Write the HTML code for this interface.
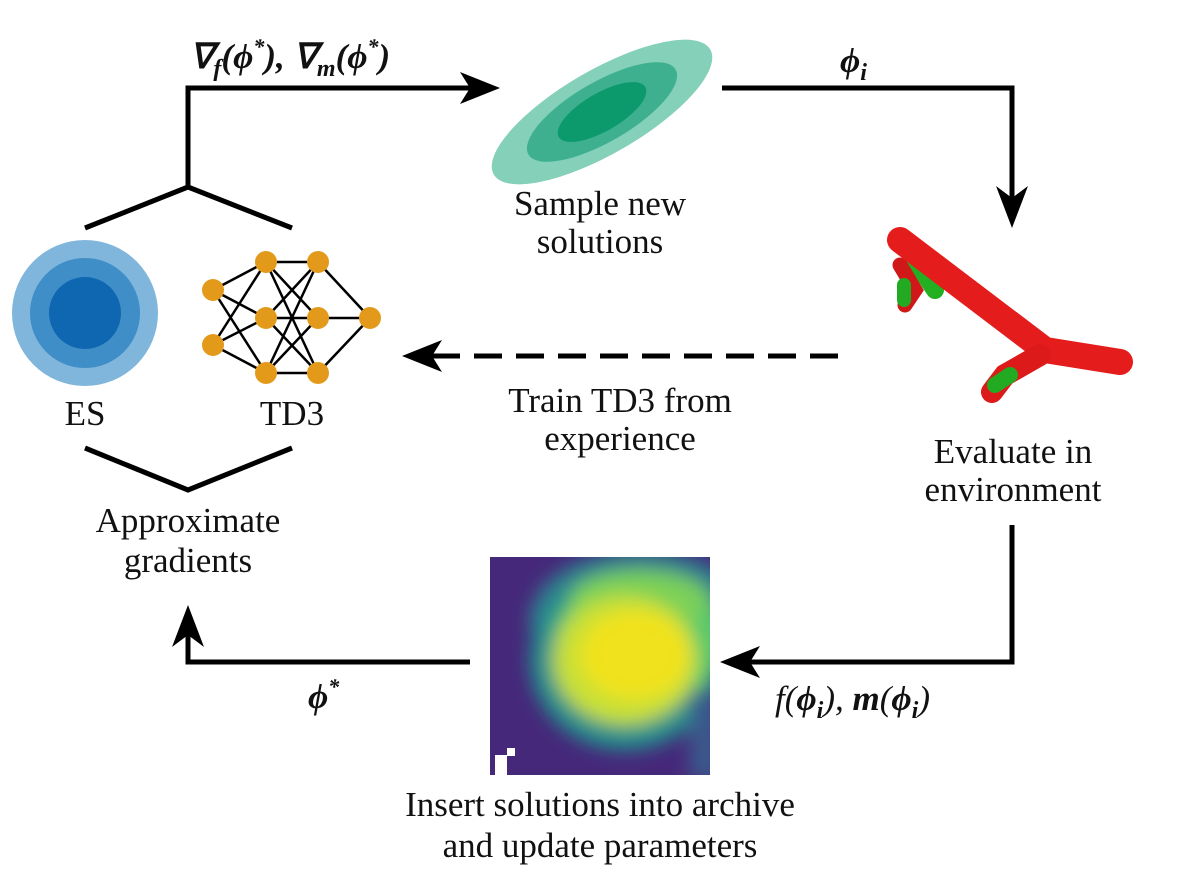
<!DOCTYPE html>
<html><head><meta charset="utf-8"><style>body{margin:0;background:#fff}svg{display:block}text{font-family:"Liberation Serif",serif;font-size:35px;fill:#111}</style></head><body>
<svg width="1200" height="882" viewBox="0 0 1200 882">
<defs>
<marker id="ah" markerWidth="10" markerHeight="10" refX="8" refY="5" orient="auto" markerUnits="userSpaceOnUse" viewBox="0 0 10 10"></marker>
<filter id="bl"><feGaussianBlur stdDeviation="9"/></filter>
<clipPath id="hc"><rect x="490" y="557" width="220" height="218"/></clipPath>
</defs>
<g stroke="#000" stroke-width="5" fill="none">
<polyline points="188,187 188,88 470,88"/>
<polyline points="85,228 188,187 292,228"/>
<polyline points="85,448 188,490 292,448"/>
<polyline points="722,88 1012,88 1012,200"/>
<polyline points="1012,525 1012,662 745,662"/>
<polyline points="470,662 188,662 188,635"/>
<line x1="838" y1="356" x2="430" y2="356" stroke-dasharray="28,14"/>
</g>
<g fill="#000">
<polygon points="500,88 460,72 470,88 460,104"/>
<polygon points="1012,228 996,186 1012,198 1028,186"/>
<polygon points="720,662 760,646 750,662 760,678"/>
<polygon points="188,605 172,647 188,635 204,647"/>
<polygon points="402,356 442,340 432,356 442,372"/>
</g>
<circle cx="85" cy="313" r="73" fill="#80b6dc"/>
<circle cx="85" cy="313" r="55" fill="#3f8ec8"/>
<circle cx="85" cy="313" r="36" fill="#0e67b0"/>
<g stroke="#000" stroke-width="2.5">
<path d="M213,290L266,262M213,290L266,318M213,290L266,373M213,345L266,262M213,345L266,318M213,345L266,373"/>
<path d="M266,262L318,262M266,262L318,318M266,262L318,373M266,318L318,262M266,318L318,318M266,318L318,373M266,373L318,262M266,373L318,318M266,373L318,373"/>
<path d="M318,262L370,318M318,318L370,318M318,373L370,318"/>
</g>
<g fill="#e39a1b">
<circle cx="213" cy="290" r="11"/><circle cx="213" cy="345" r="11"/>
<circle cx="266" cy="262" r="11"/><circle cx="266" cy="318" r="11"/><circle cx="266" cy="373" r="11"/>
<circle cx="318" cy="262" r="11"/><circle cx="318" cy="318" r="11"/><circle cx="318" cy="373" r="11"/>
<circle cx="370" cy="318" r="11"/>
</g>
<g transform="translate(602,112) rotate(-30)">
<ellipse rx="125" ry="42" fill="#84d0b9"/>
<ellipse rx="85" ry="30" fill="#3fb08f"/>
<ellipse rx="50" ry="19" fill="#0c9a6c"/>
</g>
<g stroke-linecap="round" fill="none">
<path d="M905,245 L935,290" stroke="#22b022" stroke-width="18"/>
<path d="M900,265 L915,290 L905,305" stroke="#d01818" stroke-width="15"/>
<path d="M904,285 L904,300" stroke="#22aa22" stroke-width="14"/>
<path d="M900,240 L1045,350 L1120,362" stroke="#e41c1c" stroke-width="26" stroke-linejoin="round"/>
<path d="M1040,355 L1005,375 L992,392" stroke="#dd1a1a" stroke-width="22"/>
<path d="M1010,375 L995,385" stroke="#22aa22" stroke-width="16"/>
</g>
<g clip-path="url(#hc)">
<rect x="490" y="557" width="220" height="218" fill="#46287a"/>
<g filter="url(#bl)">
<ellipse cx="640" cy="620" rx="110" ry="70" fill="#2f7f8e"/>
<ellipse cx="625" cy="660" rx="95" ry="90" fill="#23928c"/>
<ellipse cx="640" cy="640" rx="85" ry="70" fill="#5cc86a"/>
<ellipse cx="640" cy="600" rx="70" ry="30" fill="#7ad058"/>
<ellipse cx="625" cy="660" rx="72" ry="65" fill="#c8e035"/>
<ellipse cx="635" cy="655" rx="55" ry="45" fill="#f0e21f"/>
<rect x="690" y="690" width="30" height="90" fill="#3b5a8c"/>
</g>
<rect x="495" y="755" width="12" height="20" fill="#fff"/><rect x="507" y="748" width="8" height="8" fill="#fff"/>
</g>
<text x="190" y="68" font-weight="bold" font-style="italic" font-size="34">∇<tspan font-size="24" dy="8">f</tspan><tspan dy="-8">(ϕ</tspan><tspan font-size="22" dy="-14">*</tspan><tspan dy="14">), ∇</tspan><tspan font-size="24" dy="8">m</tspan><tspan dy="-8">(ϕ</tspan><tspan font-size="22" dy="-14">*</tspan><tspan dy="14">)</tspan></text>
<text x="840" y="72" font-weight="bold" font-style="italic">ϕ<tspan font-size="24" dy="8">i</tspan></text>
<text x="600" y="215" text-anchor="middle">Sample new</text>
<text x="600" y="253" text-anchor="middle">solutions</text>
<text x="85" y="425" text-anchor="middle">ES</text>
<text x="292" y="425" text-anchor="middle">TD3</text>
<text x="620" y="412" text-anchor="middle">Train TD3 from</text>
<text x="620" y="450" text-anchor="middle">experience</text>
<text x="1013" y="463" text-anchor="middle">Evaluate in</text>
<text x="1013" y="501" text-anchor="middle">environment</text>
<text x="188" y="532" text-anchor="middle">Approximate</text>
<text x="188" y="572" text-anchor="middle">gradients</text>
<text x="308" y="708" font-weight="bold" font-style="italic">ϕ<tspan font-size="22" dy="-14">*</tspan></text>
<text x="775" y="710" font-style="italic">f(<tspan font-weight="bold">ϕ</tspan><tspan font-size="24" dy="8" font-weight="bold">i</tspan><tspan dy="-8">), </tspan><tspan font-weight="bold">m</tspan>(<tspan font-weight="bold">ϕ</tspan><tspan font-size="24" dy="8" font-weight="bold">i</tspan><tspan dy="-8">)</tspan></text>
<text x="600" y="816" text-anchor="middle">Insert solutions into archive</text>
<text x="600" y="857" text-anchor="middle">and update parameters</text>
</svg>
</body></html>
